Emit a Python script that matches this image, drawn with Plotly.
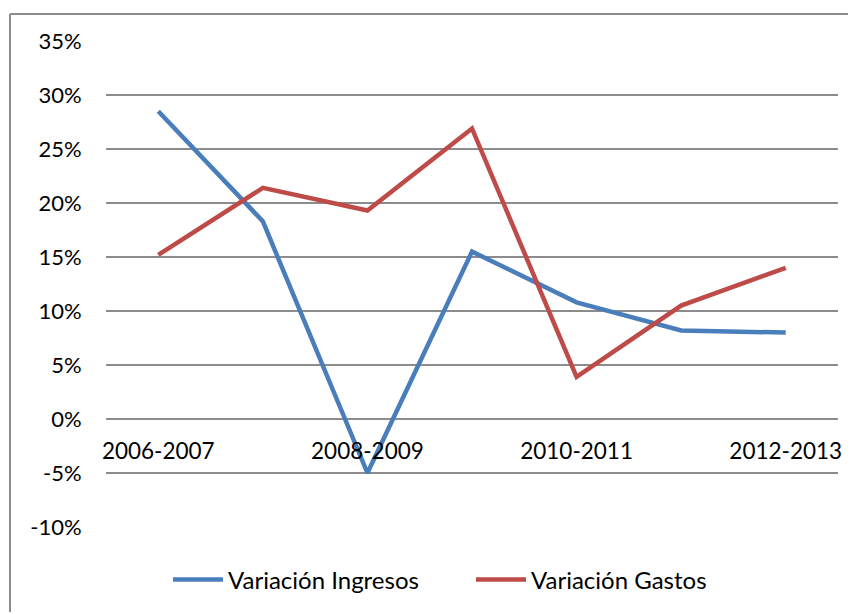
import plotly.graph_objects as go

categories = ["2006-2007", "2007-2008", "2008-2009", "2009-2010", "2010-2011", "2011-2012", "2012-2013"]
ingresos = [28.5, 18.3, -5.0, 15.5, 10.8, 8.2, 8.0]
gastos = [15.2, 21.4, 19.3, 26.9, 3.9, 10.5, 14.0]
shown_ticks = ["2006-2007", "2008-2009", "2010-2011", "2012-2013"]
y_ticks = [-10, -5, 0, 5, 10, 15, 20, 25, 30, 35]

# page offset from default body margin
OFF = 8
W, H = 856 - OFF, 614 - OFF
L, T = 106 - OFF, 41 - OFF
R = W - (838 - OFF)
B = H - (527 - OFF)
pw, ph = W - L - R, H - T - B

FONT = "Lato"
fig = go.Figure()
fig.add_trace(go.Scatter(x=categories, y=ingresos, mode="lines", name="Variación Ingresos",
                         line=dict(color="#4A7EBB", width=4.5)))
fig.add_trace(go.Scatter(x=categories, y=gastos, mode="lines", name="Variación Gastos",
                         line=dict(color="#BE4B48", width=4.5)))

ymin, ymax = -10, 35
fig.update_layout(
    width=W, height=H,
    margin=dict(l=L, r=R, t=T, b=B, autoexpand=False),
    paper_bgcolor="white", plot_bgcolor="white",
    font=dict(family=FONT, size=22, color="black"),
    showlegend=True,
    legend=dict(orientation="h", x=(168 - 106) / pw, xanchor="left", y=(527 - 580) / ph,
                yanchor="middle", font=dict(size=24), itemwidth=50, traceorder="normal",
                entrywidth=238, entrywidthmode="pixels"),
    xaxis=dict(type="category", range=[-0.5, 6.5], tickmode="array", tickvals=shown_ticks,
               ticktext=shown_ticks, showgrid=False, zeroline=False, showline=False,
               anchor="free", position=(0 - ymin) / (ymax - ymin), ticks="outside",
               ticklen=12, tickcolor="rgba(0,0,0,0)", tickfont=dict(size=22.5)),
    yaxis=dict(range=[ymin, ymax], tickvals=y_ticks, ticktext=[f"{v}%" for v in y_ticks],
               showgrid=True, gridcolor="#8C8C8C", gridwidth=1.5, zeroline=False,
               showline=False, ticks="outside", ticklen=19, tickcolor="rgba(0,0,0,0)",
               tickfont=dict(size=22)),
)
# outer chart border: left and top edges (right/bottom lie beyond the image), in pixels
def px_x(p):
    return (p - 106) / pw
def px_y(p):
    return (527 - p) / ph
border = dict(color="#8C8C8C", width=2)
fig.add_shape(type="line", xref="paper", yref="paper", layer="above",
              x0=px_x(10), x1=px_x(850), y0=px_y(14), y1=px_y(14), line=border)
fig.add_shape(type="line", xref="paper", yref="paper", layer="above",
              x0=px_x(10), x1=px_x(10), y0=px_y(612), y1=px_y(14), line=border)

fig.write_html("out.html")
